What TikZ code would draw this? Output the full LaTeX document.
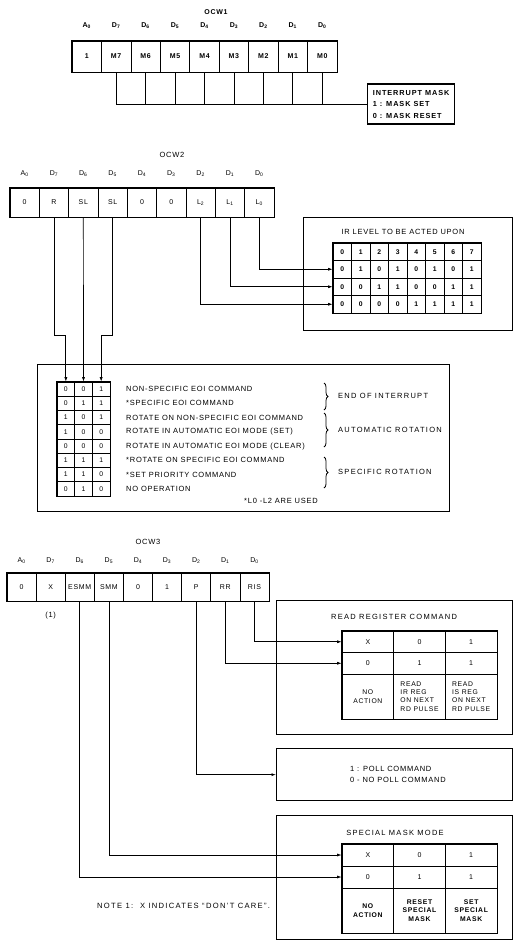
\documentclass[tikz,border=0pt]{standalone}
\usepackage{fontspec}
\setmainfont{Liberation Sans}
\newfontfamily\chipfont[LetterSpace=10]{Liberation Sans}
\newfontfamily\widefont[LetterSpace=17]{Liberation Sans}
\newfontfamily\maskfont[LetterSpace=13]{Liberation Sans}
\usetikzlibrary{arrows.meta,positioning,calc,decorations.pathreplacing}
\tikzset{
  txt/.style={font=\chipfont\fontsize{7.5}{9}\selectfont,inner sep=0pt},
  smalltxt/.style={font=\chipfont\fontsize{6.8}{8.3}\selectfont,inner sep=0pt},
  bitlbl/.style={font=\fontsize{7}{8}\selectfont,inner sep=0pt},
  regcell/.style={draw,line width=0.7pt,inner sep=0pt,font=\chipfont\fontsize{7}{8}\selectfont},
  tabcell/.style={draw,line width=0.6pt,inner sep=0pt,font=\chipfont\fontsize{7}{8}\selectfont},
  frame/.style={draw,line width=1.3pt,inner sep=0pt},
  wire/.style={line width=0.7pt},
  arr/.style={wire,-{Latex[length=4.5pt,width=3pt]}},
  curly/.style={line width=0.8pt,decorate,decoration={brace,amplitude=4pt}}
}
\begin{document}
\begin{tikzpicture}[x=1pt,y=-1pt]
\useasboundingbox (0,0) rectangle (514,945);
% ---------------- OCW1
\node[txt,font=\chipfont\bfseries\fontsize{7}{8}\selectfont] (ocwa) at (216,12) {OCW1};
\foreach \t [count=\i from 0] in {1,M7,M6,M5,M4,M3,M2,M1,M0}
  \node[regcell,font=\chipfont\bfseries\fontsize{7}{8}\selectfont,minimum width=29.44,minimum height=31] (wa\i) at ({72+29.44*(\i+0.5)},56.5) {\t};
\foreach \l/\n [count=\i from 0] in {A/0,D/7,D/6,D/5,D/4,D/3,D/2,D/1,D/0}
  \node[bitlbl,font=\bfseries\fontsize{7}{8}\selectfont] (wal\i) at ({72+29.44*(\i+0.5)},26) {\l\textsubscript{\n}};
\draw[frame] (wa0.north west) rectangle (wa8.south east);
\node[frame,anchor=west,minimum width=87,minimum height=40,align=left,inner xsep=2pt,
  font=\maskfont\bfseries\fontsize{7.3}{11.5}\selectfont] (mask) at (367,104)
  {INTERRUPT MASK\\1 : MASK SET\\0 : MASK RESET};
\draw[wire] (wa1.south) |- (mask.west);
\foreach \i in {2,...,8}
  \draw[wire] (wa\i.south) -- (wa\i.south |- mask.west);
% ---------------- OCW2
\node[txt] (ocwb) at (172,155) {OCW2};
\foreach \t [count=\i from 0] in {0,R,SL,SL,0,0,L\textsubscript{2},L\textsubscript{1},L\textsubscript{0}}
  \node[regcell,minimum width=29.33,minimum height=29] (wb\i) at ({10+29.33*(\i+0.5)},202.5) {\t};
\foreach \l/\n [count=\i from 0] in {A/0,D/7,D/6,D/5,D/4,D/3,D/2,D/1,D/0}
  \node[bitlbl] (wbl\i) at ({10+29.33*(\i+0.5)},174) {\l\textsubscript{\n}};
\draw[frame] (wb0.north west) rectangle (wb8.south east);
% IR level box
\node[frame,anchor=north west,minimum width=209,minimum height=113] (irbox) at (303,217) {};
\node[txt] (irtitle) at (403,232) {IR LEVEL TO BE ACTED UPON};
\foreach \row [count=\r from 0] in {{0,1,2,3,4,5,6,7},{0,1,0,1,0,1,0,1},{0,0,1,1,0,0,1,1},{0,0,0,0,1,1,1,1}}
  \foreach \v [count=\c from 0] in \row
    \node[tabcell,font=\chipfont\bfseries\fontsize{6.8}{7}\selectfont,minimum width=18.5,minimum height=17.5] (ir-\r-\c) at ({333+18.5*(\c+0.5)},{243+17.5*(\r+0.5)}) {\v};
\draw[line width=0.9pt] (ir-0-0.north west) rectangle (ir-3-7.south east);
\draw[arr] (wb8.south) |- (ir-1-0.west);
\draw[arr] (wb7.south) |- (ir-2-0.west);
\draw[arr] (wb6.south) |- (ir-3-0.west);
% EOI box
\node[frame,anchor=north west,minimum width=412,minimum height=147] (eoibox) at (37,364) {};
\foreach \row [count=\r from 0] in {{0,0,1},{0,1,1},{1,0,1},{1,0,0},{0,0,0},{1,1,1},{1,1,0},{0,1,0}}
  \foreach \v [count=\c from 0] in \row
    \node[tabcell,font=\chipfont\fontsize{6.8}{7}\selectfont,minimum width=17.67,minimum height=14.25] (eoi-\r-\c) at ({57+17.67*(\c+0.5)},{382+14.25*(\r+0.5)}) {\v};
\draw[line width=0.9pt] (eoi-0-0.north west) rectangle (eoi-7-2.south east);
\foreach \t [count=\r from 0] in {NON-SPECIFIC EOI COMMAND,*SPECIFIC EOI COMMAND,
  ROTATE ON NON-SPECIFIC EOI COMMAND,ROTATE IN AUTOMATIC EOI MODE (SET),
  ROTATE IN AUTOMATIC EOI MODE (CLEAR),*ROTATE ON SPECIFIC EOI COMMAND,
  *SET PRIORITY COMMAND,NO OPERATION}
  \node[txt,anchor=west] (eoitxt\r) at (126,{382+14.25*(\r+0.5)}) {\t};
\draw[curly] (324,383) -- (324,410);
\draw[curly] (324,413) -- (324,447);
\draw[curly] (324,457) -- (324,488);
\node[txt,anchor=west,font=\widefont\fontsize{7.5}{9}\selectfont] (grpa) at (338,396) {END OF INTERRUPT};
\node[txt,anchor=west,font=\widefont\fontsize{7.5}{9}\selectfont] (grpb) at (338,430) {AUTOMATIC ROTATION};
\node[txt,anchor=west,font=\widefont\fontsize{7.5}{9}\selectfont] (grpc) at (338,472) {SPECIFIC ROTATION};
\node[txt,anchor=east] (lnote) at (318,501) {*L0 -L2 ARE USED};
\coordinate (jog) at (0,335);
\draw[arr] (wb1.south) -- (wb1.south |- jog) -| (eoi-0-0.north);
\draw[arr] (wb2.south) -- (eoi-0-1.north);
\draw[arr] (wb3.south) -- (wb3.south |- jog) -| (eoi-0-2.north);
% ---------------- OCW3
\node[txt] (ocwc) at (148,542) {OCW3};
\foreach \t [count=\i from 0] in {0,X,ESMM,SMM,0,1,P,RR,RIS}
  \node[regcell,minimum width=29.11,minimum height=28] (wc\i) at ({7+29.11*(\i+0.5)},587) {\t};
\foreach \l/\n [count=\i from 0] in {A/0,D/7,D/6,D/5,D/4,D/3,D/2,D/1,D/0}
  \node[bitlbl] (wcl\i) at ({7+29.11*(\i+0.5)},561) {\l\textsubscript{\n}};
\draw[frame] (wc0.north west) rectangle (wc8.south east);
\node[txt] (fnmark) at (wc1 |- 0,616) {(1)};
% read register box
\node[frame,anchor=north west,minimum width=236,minimum height=134] (rrbox) at (276,600) {};
\node[txt,font=\widefont\fontsize{7.5}{9}\selectfont] (rrtitle) at (394,617) {READ REGISTER COMMAND};
\foreach \row [count=\r from 0] in {{X,0,1},{0,1,1}}
  \foreach \v [count=\c from 0] in \row
    \node[tabcell,minimum width=51.67,minimum height=21.5] (rr-\r-\c) at ({342+51.67*(\c+0.5)},{631+21.5*(\r+0.5)}) {\v};
\node[tabcell,smalltxt,draw,align=center,minimum width=51.67,minimum height=45] (rr-2-0) at ({342+51.67*0.5},696.5) {NO\\ACTION};
\node[tabcell,smalltxt,draw,align=left,minimum width=51.67,minimum height=45] (rr-2-1) at ({342+51.67*1.5},696.5) {READ\\IR REG\\ON NEXT\\RD PULSE};
\node[tabcell,smalltxt,draw,align=left,minimum width=51.67,minimum height=45] (rr-2-2) at ({342+51.67*2.5},696.5) {READ\\IS REG\\ON NEXT\\RD PULSE};
\draw[line width=0.9pt] (rr-0-0.north west) rectangle (rr-2-2.south east);
\draw[arr] (wc8.south) |- (rr-0-0.west);
\draw[arr] (wc7.south) |- (rr-1-0.west);
% poll box
\node[frame,anchor=north west,minimum width=236,minimum height=52] (pollbox) at (276,748) {};
\node[txt,anchor=west,align=left,font=\chipfont\fontsize{7.5}{11}\selectfont] (polltxt) at (350,774) {1 : POLL COMMAND\\0 - NO POLL COMMAND};
\draw[arr] (wc6.south) |- (pollbox.west);
% special mask box
\node[frame,anchor=north west,minimum width=236,minimum height=124] (smbox) at (276,815) {};
\node[txt,font=\widefont\fontsize{7.5}{9}\selectfont] (smtitle) at (395,833) {SPECIAL MASK MODE};
\foreach \row [count=\r from 0] in {{X,0,1},{0,1,1}}
  \foreach \v [count=\c from 0] in \row
    \node[tabcell,minimum width=51.67,minimum height=22] (sm-\r-\c) at ({342+51.67*(\c+0.5)},{844+22*(\r+0.5)}) {\v};
\foreach \t [count=\c from 0] in {{NO\\ACTION},{RESET\\SPECIAL\\MASK},{SET\\SPECIAL\\MASK}}
  \node[tabcell,align=center,font=\chipfont\bfseries\fontsize{6.8}{8.5}\selectfont,minimum width=51.67,minimum height=45] (sm-2-\c) at ({342+51.67*(\c+0.5)},910.5) {\t};
\draw[line width=0.9pt] (sm-0-0.north west) rectangle (sm-2-2.south east);
\draw[arr] (wc3.south) |- (sm-0-0.west);
\draw[arr] (wc2.south) |- (sm-1-0.west);
\node[txt,anchor=west,font=\widefont\fontsize{7.6}{9}\selectfont] (note) at (97,906) {NOTE 1:\ \ X INDICATES “DON’T CARE”.};
\end{tikzpicture}
\end{document}
